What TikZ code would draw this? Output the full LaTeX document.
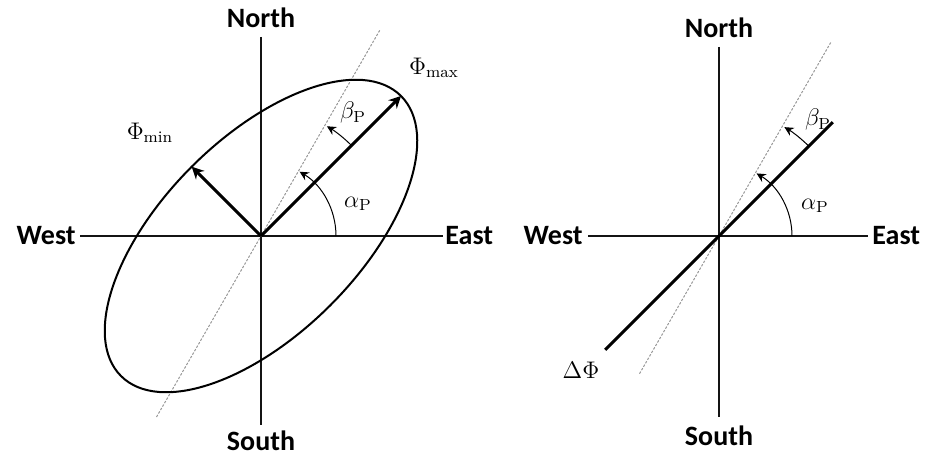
\documentclass[tikz,border=0pt]{standalone}
\usepackage{fontspec}
\setsansfont{Carlito}
\usepackage{tikz}
\usetikzlibrary{positioning,arrows.meta,calc}
\definecolor{axisc}{RGB}{20,20,20}
\definecolor{guidec}{RGB}{150,150,150}
\tikzset{
  axis/.style    = {draw=axisc, line width=0.75pt},
  dir/.style     = {font=\sffamily\bfseries\fontsize{14}{16}\selectfont, text=black, inner sep=0pt},
  guide/.style   = {draw=guidec, line width=0.5pt, dash pattern=on 1.2pt off 0.8pt},
  vec/.style     = {draw=black, line width=1.5pt, -{Stealth[length=6pt, width=6pt]}},
  strike/.style  = {draw=black, line width=1.5pt},
  ring/.style    = {draw=black, line width=1pt},
  angarr/.style  = {draw=black, line width=0.5pt, -{Stealth[length=4.5pt, width=4.5pt]}},
  sym/.style     = {font=\fontsize{11.5}{13}\selectfont, inner sep=1pt},
}

\begin{document}
\begin{tikzpicture}[x=0.5pt, y=0.5pt]
\useasboundingbox (0,0) rectangle (925,455);

% left: ellipse of polarization
\coordinate (O1) at (261,219);
\coordinate (n1) at (261,418);
\coordinate (s1) at (261,30);
\coordinate (w1) at (80,219);
\coordinate (e1) at (443,219);
\node[dir, above=4.5pt of n1] (north1) {North};
\node[dir, below=2.5pt of s1] (south1) {South};
\node[dir, left=2pt of w1] (west1) {West};
\node[dir, right=1pt of e1] (east1) {East};
\draw[axis] (n1) -- (s1);
\draw[axis] (w1) -- (e1);

\coordinate (g1a) at ($(O1)+(60:238)$);
\coordinate (g1b) at ($(O1)+(240:209)$);
\draw[guide] (g1b) -- (g1a);

\draw[ring, rotate around={45:(O1)}] (O1) ellipse[x radius=198, y radius=98];

\coordinate (pmax) at ($(O1)+(45:198)$);
\coordinate (pmin) at ($(O1)+(135:98)$);
\draw[vec] (O1) -- (pmax);
\draw[vec] (O1) -- (pmin);

\draw[angarr] ($(O1)+(0:75)$) arc[start angle=0, end angle=59, radius=75];
\draw[angarr] ($(O1)+(45:128)$) arc[start angle=45, end angle=59, radius=128];

\node[sym] (lmax) at (434,387) {$\Phi_{\mathrm{max}}$};
\node[sym] (lmin) at (150,322) {$\Phi_{\mathrm{min}}$};
\node[sym] (lb1) at (353,342) {$\beta_{\mathrm{P}}$};
\node[sym] (la1) at (358,251) {$\alpha_{\mathrm{P}}$};

% right: linear polarization
\coordinate (O2) at (719,219);
\coordinate (n2) at (719,408);
\coordinate (s2) at (719,38);
\coordinate (w2) at (588,219);
\coordinate (e2) at (868,219);
\node[dir, above=4.5pt of n2] (north2) {North};
\node[dir, below=4pt of s2] (south2) {South};
\node[dir, left=2.5pt of w2] (west2) {West};
\node[dir, right=2pt of e2] (east2) {East};
\draw[axis] (n2) -- (s2);
\draw[axis] (w2) -- (e2);

\coordinate (g2a) at ($(O2)+(60:224)$);
\coordinate (g2b) at ($(O2)+(240:159)$);
\draw[guide] (g2b) -- (g2a);

\coordinate (d2a) at ($(O2)+(45:161)$);
\coordinate (d2b) at ($(O2)+(225:161)$);
\draw[strike] (d2b) -- (d2a);

\draw[angarr] ($(O2)+(0:73)$) arc[start angle=0, end angle=59, radius=73];
\draw[angarr] ($(O2)+(45:127)$) arc[start angle=45, end angle=59, radius=127];

\node[sym] (lb2) at (818,335) {$\beta_{\mathrm{P}}$};
\node[sym] (la2) at (815,249) {$\alpha_{\mathrm{P}}$};
\node[sym] (ldp) at (581,85) {$\Delta\Phi$};

\end{tikzpicture}
\end{document}
